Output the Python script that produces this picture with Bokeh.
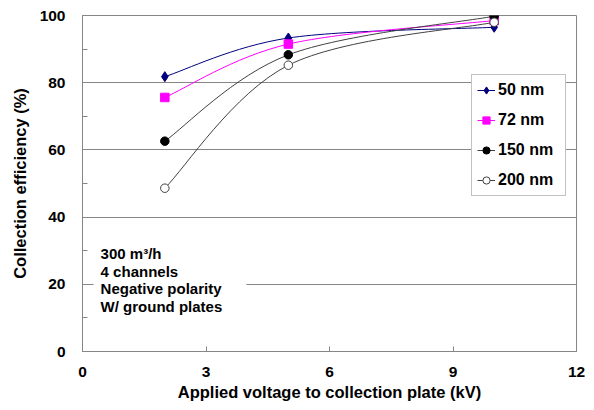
import numpy as np
from bokeh.plotting import figure
from bokeh.models import (Range1d, FixedTicker, Legend, LegendItem, BoxAnnotation, Label)
from bokeh.embed import file_html
from bokeh.resources import INLINE

# ---- data ----
voltage_kv = [2, 5, 10]
series_names = ["50 nm", "72 nm", "150 nm", "200 nm"]
eff_50nm = [81.8, 93.3, 96.5]
eff_72nm = [75.6, 91.5, 98.5]
eff_150nm = [62.6, 88.3, 99.8]
eff_200nm = [48.6, 85.2, 98.0]
x_ticks = [0, 3, 6, 9, 12]
y_ticks = [0, 20, 40, 60, 80, 100]
y_minor_ticks = [10, 30, 50, 70, 90]
note_lines = ["300 m\u00b3/h", "4 channels", "Negative polarity", "W/ ground plates"]

FONT = "Liberation Sans"
GRID = "#868686"

p = figure(width=594, height=410, output_backend="svg", toolbar_location=None,
           x_range=Range1d(0, 12), y_range=Range1d(0, 100),
           min_border_left=82, min_border_right=18, min_border_top=15, min_border_bottom=59)
p.background_fill_color = "white"
p.border_fill_color = "white"
p.outline_line_color = GRID
p.outline_line_width = 1

# axes
p.xaxis.ticker = FixedTicker(ticks=x_ticks)
p.yaxis.ticker = FixedTicker(ticks=y_ticks, minor_ticks=y_minor_ticks)
for ax in (p.xaxis, p.yaxis):
    ax.axis_line_color = GRID
    ax.major_tick_line_color = GRID
    ax.minor_tick_line_color = GRID
    ax.major_tick_in = 5
    ax.major_tick_out = 0
    ax.minor_tick_in = 5
    ax.minor_tick_out = 0
    ax.major_label_text_font = FONT
    ax.major_label_text_font_style = "bold"
    ax.major_label_text_font_size = "15.5px"
    ax.major_label_text_color = "black"
    ax.axis_label_text_font = FONT
    ax.axis_label_text_font_style = "bold"
    ax.axis_label_text_font_size = "16.5px"
    ax.axis_label_text_color = "black"
p.xaxis.minor_tick_line_color = None
p.xaxis.axis_label = "Applied voltage to collection plate (kV)"
p.yaxis.axis_label = "Collection efficiency (%)"
p.xaxis.major_label_standoff = 15
p.xaxis.axis_label_standoff = 3
p.yaxis.major_label_standoff = 17
p.yaxis.axis_label_standoff = 8

p.xgrid.grid_line_color = None
p.ygrid.ticker = FixedTicker(ticks=[20, 40, 60, 80])
p.ygrid.grid_line_color = GRID
p.ygrid.grid_line_width = 1


def smooth_segments(xs, ys):
    """Bezier control points (Excel-style smoothing) from the data points."""
    n = len(xs)
    P = np.column_stack([xs, ys]).astype(float)
    segs = []
    for i in range(n - 1):
        p_prev = P[max(i - 1, 0)]
        p0 = P[i]
        p1 = P[i + 1]
        p_next = P[min(i + 2, n - 1)]
        c0 = p0 + (p1 - p_prev) / 6.0
        c1 = p1 - (p_next - p0) / 6.0
        segs.append((p0, c0, c1, p1))
    return segs


styles = [
    dict(ys=eff_50nm, line="#000080", marker="diamond", size=10,
         fill="#000080", mline="#000080"),
    dict(ys=eff_72nm, line="#FF00FF", marker="square", size=8.5,
         fill="#FF00FF", mline="#FF00FF"),
    dict(ys=eff_150nm, line="#404040", marker="circle", size=8.5,
         fill="black", mline="black"),
    dict(ys=eff_200nm, line="#404040", marker="circle", size=8.5,
         fill="white", mline="#404040"),
]

leg_items = []
for name, st in zip(series_names, styles):
    segs = smooth_segments(voltage_kv, st["ys"])
    br = p.bezier(x0=[s[0][0] for s in segs], y0=[s[0][1] for s in segs],
                  x1=[s[3][0] for s in segs], y1=[s[3][1] for s in segs],
                  cx0=[s[1][0] for s in segs], cy0=[s[1][1] for s in segs],
                  cx1=[s[2][0] for s in segs], cy1=[s[2][1] for s in segs],
                  line_color=st["line"], line_width=1)
    sr = p.scatter(voltage_kv, st["ys"], marker=st["marker"],
                   size=st["size"], fill_color=st["fill"], line_color=st["mline"],
                   line_width=1)
    leg_items.append(LegendItem(label=name, renderers=[br, sr]))

legend = Legend(items=leg_items, location=(389, 155), orientation="vertical",
                padding=5, spacing=10, margin=0,
                label_height=20, glyph_height=20, glyph_width=18, label_standoff=3,
                label_width=62,
                label_text_font=FONT, label_text_font_style="bold",
                label_text_font_size="16px", label_text_color="black",
                border_line_color=GRID, border_line_width=1,
                background_fill_color="white", background_fill_alpha=1.0)
p.add_layout(legend, "center")

# note box
p.add_layout(BoxAnnotation(left=0.27, right=3.98, bottom=11, top=33,
                           fill_color="white", fill_alpha=1.0, line_color=None))
note_y = [29.2, 23.8, 18.75, 13.4]
for txt, yy in zip(note_lines, note_y):
    p.add_layout(Label(x=0.44, y=yy, text=txt, text_font=FONT, text_font_style="bold",
                       text_font_size="15px", text_color="black", text_baseline="middle",
                       text_align="left"))

open("out.html", "w").write(file_html(p, INLINE))
